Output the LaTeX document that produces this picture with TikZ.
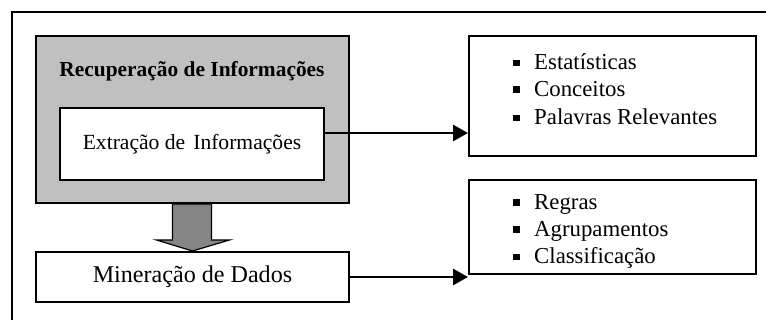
\documentclass[tikz,border=0pt]{standalone}
\usepackage{fontspec}
\setmainfont{Liberation Serif}
\usetikzlibrary{arrows.meta}
\definecolor{boxgray}{HTML}{C0C0C0}
\definecolor{arrowgray}{HTML}{858585}
\begin{document}
\begin{tikzpicture}[x=1pt,y=-1pt,
  box/.style={draw=black, line width=2pt, fill=white, inner sep=0pt},
  txt/.style={font=\fontsize{22.8}{27}\selectfont, inner sep=0pt},
  item/.style={txt, anchor=west},
  conn/.style={line width=2.8pt, -{Triangle[length=15pt,width=16pt]}},
]
\useasboundingbox (0,0) rectangle (766,320);
\fill[white] (0,0) rectangle (766,320);
% outer frame (only top and left visible)
\coordinate (ftl) at (12,12);
\coordinate (ftr) at (770,12);
\coordinate (fbl) at (12,324);
\draw[line width=1.6pt] (ftr) -- (ftl) -- (fbl);
% gray container
\node[box, fill=boxgray, minimum width=313pt, minimum height=167pt] (rec) at (192.5,119.5) {};
\node[txt, font=\fontsize{21.4}{26}\selectfont\bfseries] (title) at (192,71) {Recuperação de Informações};
\node[box, minimum width=264pt, minimum height=72pt, txt, font=\fontsize{21.6}{26}\selectfont] (ext) at (192,144) {\raisebox{-3pt}{Extração de\hspace{8pt}Informações}};
% mining box
\node[box, minimum width=313pt, minimum height=50pt, txt, font=\fontsize{24.1}{29}\selectfont] (min) at (192.5,277) {Mineração de Dados};
% gray block arrow
\coordinate (ga) at (rec.south);
\filldraw[fill=arrowgray, draw=black, line width=1.2pt]
  ([xshift=-20pt]ga) -- ([xshift=19pt]ga) -- ([xshift=19pt,yshift=-36pt]ga)
  -- ([xshift=37pt,yshift=-36pt]ga) -- (min.north) -- ([xshift=-36pt,yshift=-36pt]ga)
  -- ([xshift=-20pt,yshift=-36pt]ga) -- cycle;
% right boxes
\node[box, minimum width=287pt, minimum height=120pt] (r1) at (612.5,96) {};
\node[box, minimum width=287pt, minimum height=94pt] (r2) at (612.5,227) {};
\newcommand{\sqb}{\raisebox{3.5pt}{\rule{6.5pt}{6.5pt}}\hspace{14.5pt}}
\node[item] (i1) at (513,62) {\sqb Estatísticas};
\node[item] (i2) at (513,89) {\sqb Conceitos};
\node[item] (i3) at (513,117) {\sqb Palavras Relevantes};
\node[item] (j1) at (513,204) {\sqb Regras};
\node[item] (j2) at (513,231) {\sqb Agrupamentos};
\node[item] (j3) at (513,258) {\sqb Classificação};
% connectors
\draw[conn] ([yshift=11pt]ext.east) -- ([yshift=11pt]ext.east -| r1.west);
\draw[conn] (min.east) -- (min.east -| r2.west);
\end{tikzpicture}
\end{document}
